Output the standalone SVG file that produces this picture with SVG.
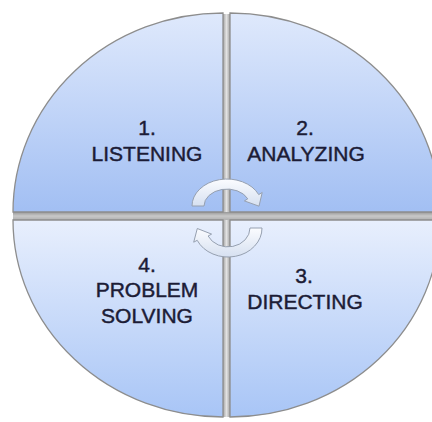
<svg xmlns="http://www.w3.org/2000/svg" width="432" height="422" viewBox="0 0 432 422">
  <style>
    .quad { stroke: #8d8d8d; stroke-width: 1.3; }
    .label { font-family: "Liberation Sans", Arial, sans-serif; font-size: 21px; fill: #1c1c36; stroke: #1c1c36; stroke-width: 0.45; text-anchor: middle; }
    .cycle { fill: url(#arrowFill); stroke: #96a0b0; stroke-width: 1; stroke-linejoin: round; }
  </style>
  <defs>
    <linearGradient id="topFill" x1="0" y1="0" x2="0" y2="1">
      <stop offset="0" stop-color="#dfe9fc"/>
      <stop offset="1" stop-color="#a2bff3"/>
    </linearGradient>
    <linearGradient id="bottomFill" x1="0" y1="0" x2="0" y2="1">
      <stop offset="0" stop-color="#e8effd"/>
      <stop offset="1" stop-color="#a8c5f6"/>
    </linearGradient>
    <linearGradient id="vGap" x1="0" y1="0" x2="1" y2="0">
      <stop offset="0" stop-color="#a4a4a4"/>
      <stop offset="0.5" stop-color="#e2e2e2"/>
      <stop offset="1" stop-color="#a4a4a4"/>
    </linearGradient>
    <linearGradient id="hGap" x1="0" y1="0" x2="0" y2="1">
      <stop offset="0" stop-color="#989898"/>
      <stop offset="0.5" stop-color="#c8c8c8"/>
      <stop offset="1" stop-color="#b0b0b0"/>
    </linearGradient>
    <linearGradient id="arrowFill" x1="0" y1="0" x2="0" y2="1">
      <stop offset="0" stop-color="#fbfcff"/>
      <stop offset="1" stop-color="#d6e0f0"/>
    </linearGradient>
  </defs>

  <!-- gaps between the quarters -->
  <g id="gaps">
    <rect x="223" y="14" width="7" height="403" fill="url(#vGap)"/>
    <rect x="13" y="212" width="419" height="8" fill="url(#hGap)"/>
  </g>

  <g id="listening">
    <path class="quad" fill="url(#topFill)" d="M223,212 L13,212 A210,199 0 0 1 223,13 Z"/>
    <text class="label" x="147" y="135">1.</text>
    <text class="label" x="147" y="161">LISTENING</text>
  </g>

  <g id="analyzing">
    <path class="quad" fill="url(#topFill)" d="M230,212 L230,13 A210,199 0 0 1 440,212 Z"/>
    <text class="label" x="305" y="135">2.</text>
    <text class="label" x="306" y="161">ANALYZING</text>
  </g>

  <g id="directing">
    <path class="quad" fill="url(#bottomFill)" d="M230,220 L440,220 A210,197 0 0 1 230,417 Z"/>
    <text class="label" x="304" y="283">3.</text>
    <text class="label" x="305" y="309">DIRECTING</text>
  </g>

  <g id="problem-solving">
    <path class="quad" fill="url(#bottomFill)" d="M223,220 L223,417 A210,197 0 0 1 13,220 Z"/>
    <text class="label" x="147" y="272">4.</text>
    <text class="label" x="147" y="297">PROBLEM</text>
    <text class="label" x="147" y="323">SOLVING</text>
  </g>

  <!-- circular arrows in the middle -->
  <g id="connectors">
    <path class="cycle" d="M192,206 A35,27 0 0 1 258.7,194.6 L262.2,192.5 L259,206.2 L244.4,200.9 L247.8,198.8 A23,17 0 0 0 204,206 Z"/>
    <path class="cycle" d="M262,228 A34,29 0 0 1 197.2,240.3 L193.7,242.2 L197.3,228.5 L211.6,234.1 L208.1,236 A22,19 0 0 0 250,228 Z"/>
  </g>
</svg>
